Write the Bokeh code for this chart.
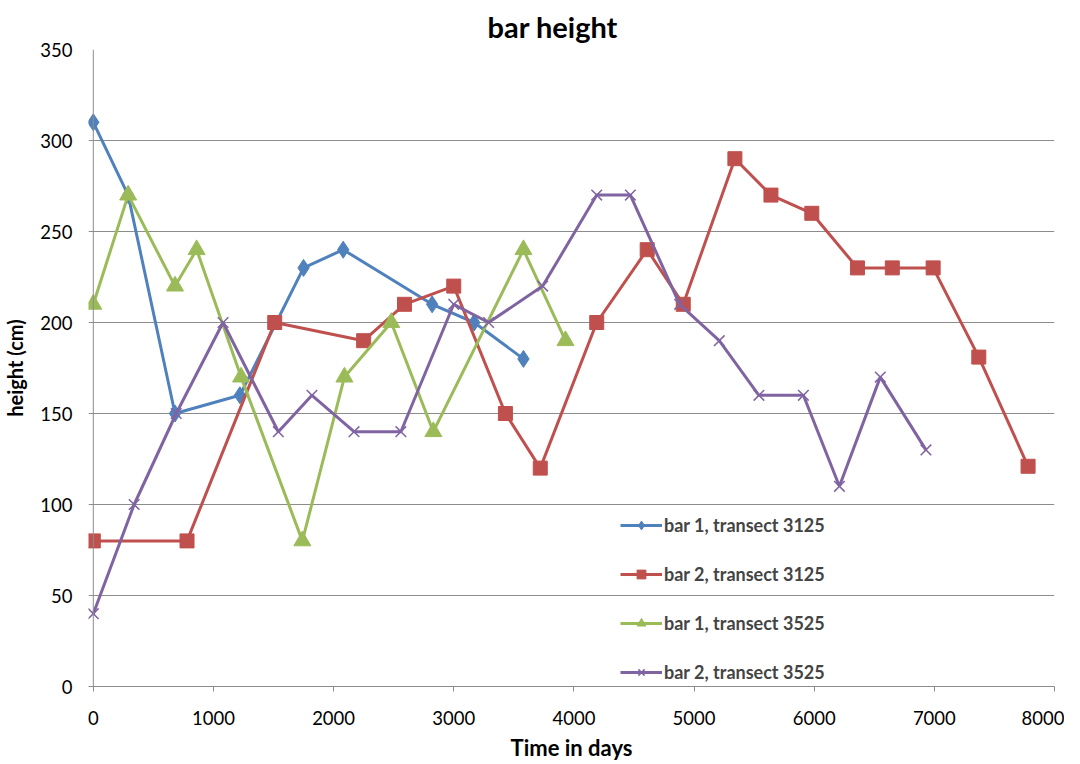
from bokeh.plotting import figure
from bokeh.models import FixedTicker, Legend, LegendItem, Range1d, Span
from bokeh.embed import file_html
from bokeh.resources import INLINE

# ---- data ----
b1t3125_days = [0, 290, 680, 1220, 1750, 2080, 2820, 3170, 3580]
b1t3125_h = [310, 270, 150, 160, 230, 240, 210, 200, 180]

b2t3125_days = [0, 780, 1510, 2250, 2590, 3000, 3430, 3720, 4190, 4610, 4910,
                5340, 5640, 5980, 6360, 6650, 6990, 7370, 7780]
b2t3125_h = [80, 80, 200, 190, 210, 220, 150, 120, 200, 240, 210,
             290, 270, 260, 230, 230, 230, 181, 121]

b1t3525_days = [0, 290, 680, 860, 1230, 1740, 2090, 2480, 2830, 3580, 3930]
b1t3525_h = [210, 270, 220, 240, 170, 80, 170, 200, 140, 240, 190]

b2t3525_days = [0, 340, 690, 1080, 1540, 1820, 2170, 2560, 3000, 3290, 3740,
                4190, 4470, 4880, 5210, 5540, 5910, 6210, 6550, 6930]
b2t3525_h = [40, 100, 150, 200, 140, 160, 140, 140, 210, 200, 220,
             270, 270, 210, 190, 160, 160, 110, 170, 130]

series_names = ["bar 1, transect 3125", "bar 2, transect 3125",
                "bar 1, transect 3525", "bar 2, transect 3525"]
x_ticks = [0, 1000, 2000, 3000, 4000, 5000, 6000, 7000, 8000]
y_ticks = [0, 50, 100, 150, 200, 250, 300, 350]

FONT = "Lato"
GRID = "#8c8c8c"

p = figure(width=1064, height=764, output_backend="svg", toolbar_location=None,
           x_range=Range1d(-40, 8000), y_range=Range1d(0, 350),
           min_border_left=85, min_border_right=10, min_border_top=48,
           min_border_bottom=78)
p.outline_line_color = None

# title
p.title.text = "bar height"
p.title.text_font = FONT
p.title.text_font_size = "29px"
p.title.text_font_style = "bold"
p.title.text_color = "#000000"
p.title.align = "left"
p.title.offset = 399
p.title.standoff = 12

# grid
p.xgrid.grid_line_color = None
p.ygrid.grid_line_color = GRID
p.ygrid.grid_line_width = 1
p.ygrid.ticker = FixedTicker(ticks=y_ticks)

# axes
p.xaxis.ticker = FixedTicker(ticks=x_ticks)
p.yaxis.ticker = FixedTicker(ticks=y_ticks)
for ax in (p.xaxis[0], p.yaxis[0]):
    ax.axis_line_color = GRID
    ax.major_tick_line_color = GRID
    ax.major_tick_in = 0
    ax.minor_tick_line_color = None
    ax.major_label_text_font = FONT
    ax.major_label_text_font_size = "18.5px"
    ax.major_label_text_color = "#000000"
    ax.axis_label_text_font = FONT
    ax.axis_label_text_font_style = "bold"
    ax.axis_label_text_color = "#000000"

p.xaxis.major_tick_out = 5
p.xaxis.major_label_standoff = 19
p.xaxis.axis_label = "Time in days"
p.xaxis.axis_label_text_font_size = "22px"
p.xaxis.axis_label_standoff = 6

p.yaxis.axis_line_color = None
p.yaxis.major_tick_line_color = None
p.yaxis.major_tick_out = 0
p.yaxis.major_label_standoff = 16
p.yaxis.axis_label = "height (cm)"
p.yaxis.axis_label_text_font_size = "20px"
p.yaxis.axis_label_standoff = 10

# y axis line at x = 0
p.add_layout(Span(location=0, dimension="height", line_color=GRID, line_width=1))

# series
blue, red, green, purple = "#4F81BD", "#C0504D", "#9BBB59", "#8064A2"
lw = 3

l1 = p.line(b1t3125_days, b1t3125_h, line_color=blue, line_width=lw)
m1 = p.scatter(b1t3125_days, b1t3125_h, marker="diamond", size=17,
               fill_color=blue, line_color=blue)

l2 = p.line(b2t3125_days, b2t3125_h, line_color=red, line_width=lw)
m2 = p.scatter(b2t3125_days, b2t3125_h, marker="square", size=14,
               fill_color=red, line_color=red)

l3 = p.line(b1t3525_days, b1t3525_h, line_color=green, line_width=lw)
m3 = p.scatter(b1t3525_days, b1t3525_h, marker="triangle", size=17,
               fill_color=green, line_color=green)

l4 = p.line(b2t3525_days, b2t3525_h, line_color=purple, line_width=lw)
m4 = p.scatter(b2t3525_days, b2t3525_h, marker="x", size=15,
               line_color=purple, line_width=1.5)

legend = Legend(items=[
    LegendItem(label=series_names[0], renderers=[l1, m1]),
    LegendItem(label=series_names[1], renderers=[l2, m2]),
    LegendItem(label=series_names[2], renderers=[l3, m3]),
    LegendItem(label=series_names[3], renderers=[l4, m4]),
], location=(532, 3))
legend.background_fill_alpha = 0
legend.border_line_alpha = 0
legend.padding = 0
legend.margin = 0
legend.spacing = 27
legend.glyph_width = 42
legend.glyph_height = 22
legend.label_height = 22
legend.label_standoff = 2
legend.label_text_font = FONT
legend.label_text_font_size = "18px"
legend.label_text_font_style = "bold"
p.add_layout(legend, "center")

open("out.html", "w").write(file_html(p, INLINE))
